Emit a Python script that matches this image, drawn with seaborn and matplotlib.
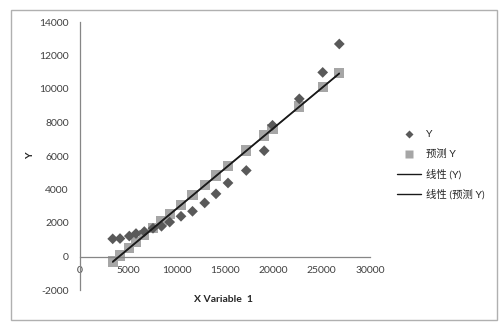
import matplotlib
matplotlib.use("Agg")
import matplotlib.pyplot as plt
import seaborn as sns
import pandas as pd
from matplotlib.lines import Line2D
from matplotlib.patches import Rectangle

# ---- data ----
x_values = [3383, 4138, 5100, 5793, 6652, 7552, 8431, 9279, 10448, 11638,
            12900, 14069, 15310, 17203, 19055, 19914, 22686, 25107, 26824]
y_values = [1054, 1072, 1221, 1370, 1489, 1686, 1805, 2055, 2401, 2699,
            3199, 3741, 4390, 5135, 6314, 7834, 9412, 10991, 12688]
y_pred = [-300, 60, 520, 860, 1270, 1700, 2120, 2530, 3090, 3660,
          4270, 4830, 5420, 6330, 7220, 7630, 8960, 10120, 10940]
x_ticks = [0, 5000, 10000, 15000, 20000, 25000, 30000]
y_ticks = [-2000, 0, 2000, 4000, 6000, 8000, 10000, 12000, 14000]
legend_labels = ["Y", "预测 Y", "线性 (Y)", "线性 (预测 Y)"]
x_label = "X Variable  1"
y_label = "Y"

df = pd.DataFrame({"x": x_values, "y": y_values, "pred": y_pred})

sns.set_theme(style="white")
plt.rcParams["font.family"] = ["Lato", "Noto Sans CJK SC", "DejaVu Sans"]

fig = plt.figure(figsize=(5.0, 3.33), dpi=100)
fig.patch.set_facecolor("white")

# chart frame (Excel chart area)
fig.patches.append(Rectangle((11 / 500, 1 - 320 / 333), (497 - 11) / 500, (320 - 10) / 333,
                             transform=fig.transFigure, fill=False,
                             edgecolor="#b0b0b0", linewidth=1.0))

ax = fig.add_axes([0.16, 43 / 333, 0.58, (290 - 22) / 333])
ax.set_facecolor("white")

axis_gray = "#868686"
text_col = "#404040"

sns.scatterplot(data=df, x="x", y="pred", ax=ax, marker="s", s=55,
                color="#a6a6a6", edgecolor="none", zorder=2)
sns.scatterplot(data=df, x="x", y="y", ax=ax, marker="D", s=30,
                color="#595959", edgecolor="none", zorder=3)

# trendlines (drawn above the markers, as in the reference)
sns.regplot(data=df, x="x", y="y", ax=ax, scatter=False, ci=None,
            line_kws=dict(color="#1a1a1a", linewidth=1.0, zorder=5), truncate=True)
sns.regplot(data=df, x="x", y="pred", ax=ax, scatter=False, ci=None,
            line_kws=dict(color="#1a1a1a", linewidth=1.0, zorder=5), truncate=True)

ax.set_xlim(0, 30000)
ax.set_ylim(-2000, 14000)
ax.set_xticks(x_ticks)
ax.set_yticks(y_ticks)
ax.set_xticklabels([str(t) for t in x_ticks])
ax.set_yticklabels([str(t) for t in y_ticks])

for s in ["top", "right"]:
    ax.spines[s].set_visible(False)
ax.spines["bottom"].set_position(("data", 0))
for s in ["left", "bottom"]:
    ax.spines[s].set_color(axis_gray)
    ax.spines[s].set_linewidth(0.9)

ax.tick_params(axis="both", which="major", direction="out", length=4,
               width=0.9, color=axis_gray, labelsize=7.5, labelcolor=text_col)
ax.tick_params(axis="y", pad=4)
ax.tick_params(axis="x", pad=3)

ax.set_xlabel("")
ax.set_ylabel("")
fig.text(223 / 500, 1 - 300 / 333, x_label, ha="center", va="center",
         fontsize=7.5, fontweight="bold", color="#262626")
fig.text(31 / 500, 1 - 156 / 333, y_label, ha="center", va="center",
         fontsize=7.5, fontweight="bold", color="#262626", rotation=90)

handles = [
    Line2D([], [], linestyle="none", marker="D", markersize=4.5,
           markerfacecolor="#595959", markeredgecolor="none"),
    Line2D([], [], linestyle="none", marker="s", markersize=6,
           markerfacecolor="#a6a6a6", markeredgecolor="none"),
    Line2D([], [], color="#1a1a1a", linewidth=1.0),
    Line2D([], [], color="#1a1a1a", linewidth=1.0),
]
leg = fig.legend(handles, legend_labels, loc="upper left",
                 bbox_to_anchor=(393 / 500, 1 - 126 / 333),
                 frameon=False, fontsize=7.5, labelspacing=0.95,
                 handlelength=2.3, handletextpad=0.5, borderaxespad=0)
for t in leg.get_texts():
    t.set_color("#262626")

fig.savefig("out.png", dpi=100, facecolor="white")
